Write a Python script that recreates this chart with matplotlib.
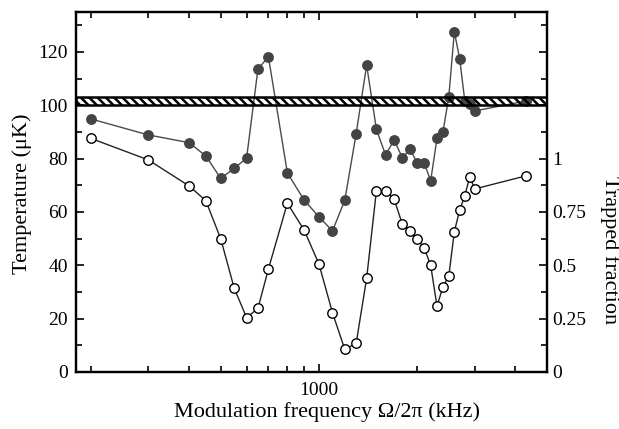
import matplotlib
matplotlib.use("Agg")
import matplotlib.pyplot as plt
import numpy as np
from matplotlib.ticker import FixedLocator, NullFormatter, FixedFormatter

plt.rcParams['font.family'] = ['Liberation Serif', 'DejaVu Serif']
plt.rcParams['hatch.linewidth'] = 1.8

# modulation frequency (kHz)
freq = [200, 300, 400, 450, 500, 550, 600, 650, 700, 800, 900, 1000, 1100,
        1200, 1300, 1400, 1500, 1600, 1700, 1800, 1900, 2000, 2100, 2200,
        2300, 2400, 2500, 2600, 2700, 2800, 2900, 3000, 4300]

# temperature (uK), filled circles
temperature = [94.9, 88.9, 86.0, 81.0, 72.6, 76.4, 80.2, 113.6, 118.2, 74.7,
               64.5, 58.2, 52.9, 64.4, 89.3, 115.1, 91.0, 81.4, 87.0, 80.4,
               83.5, 78.5, 78.5, 71.7, 87.6, 90.1, 103.2, 127.6, 117.4, 101.5,
               100.5, 97.9, 101.6]

# trapped fraction, open circles
fraction = [1.095, 0.994, 0.872, 0.803, 0.624, 0.392, 0.255, 0.298, 0.483,
            0.791, 0.666, 0.506, 0.278, 0.106, 0.134, 0.439, 0.850, 0.850,
            0.810, 0.694, 0.663, 0.624, 0.583, 0.500, 0.309, 0.400, 0.450,
            0.658, 0.759, 0.827, 0.916, 0.858, 0.919]

# initial temperature band
band = (100, 103)

fig = plt.figure(figsize=(6.19, 4.29), dpi=100)
ax = fig.add_axes([76/619, 1-372/429, 471/619, 360/429])
ax2 = ax.twinx()

ax.plot(freq, temperature, '-o', color='#4a4a4a', lw=1.0, ms=6.8,
        mfc='#444444', mec='#444444', zorder=3)
ax.axhspan(band[0], band[1], facecolor='none', edgecolor='black',
           hatch='\\\\\\\\', lw=1.8, zorder=6)

ax2.plot(freq, fraction, '-o', color='#222222', lw=1.0, ms=6.8,
         mfc='white', mec='black', mew=1.0, zorder=3)

ax.set_xscale('log')
ax.set_xlim(180, 5000)
ax.set_ylim(0, 135)
ax2.set_ylim(0, 135/80)

ax.xaxis.set_major_locator(FixedLocator([1000]))
ax.xaxis.set_major_formatter(FixedFormatter(['1000']))
ax.xaxis.set_minor_locator(FixedLocator([200, 300, 400, 500, 600, 700, 800,
                                         900, 2000, 3000, 4000]))
ax.xaxis.set_minor_formatter(NullFormatter())

ax.set_yticks(np.arange(0, 121, 20))
ax.set_yticks(np.arange(10, 135, 20), minor=True)

major_r = np.arange(0, 1.7, 0.25)
ax2.yaxis.set_major_locator(FixedLocator(major_r))
ax2.yaxis.set_major_formatter(FixedFormatter(['0', '0.25', '0.5', '0.75', '1', '', '']))
ax2.yaxis.set_minor_locator(FixedLocator(np.arange(0.125, 1.7, 0.25)))

ax.tick_params(which='both', direction='in', top=True, right=False,
               labelsize=14, width=1.2)
ax.tick_params(which='major', length=6)
ax.tick_params(which='minor', length=4)
ax.tick_params(axis='y', pad=6)
ax.tick_params(axis='x', pad=7)
ax2.tick_params(which='both', direction='in', labelsize=14, width=1.2, pad=4)
ax2.tick_params(which='major', length=6)
ax2.tick_params(which='minor', length=4)

for a in (ax, ax2):
    for s in a.spines.values():
        s.set_linewidth(1.6)

fig.text(22/619, 1-194/429, 'Temperature (μK)', rotation=90,
         ha='center', va='center', fontsize=16)
fig.text(610/619, 1-250/429, 'Trapped fraction', rotation=270,
         ha='center', va='center', fontsize=16)
fig.text(327/619, 1-412/429, 'Modulation frequency Ω/2π (kHz)',
         ha='center', va='center', fontsize=16)

fig.savefig('out.png', dpi=100)
